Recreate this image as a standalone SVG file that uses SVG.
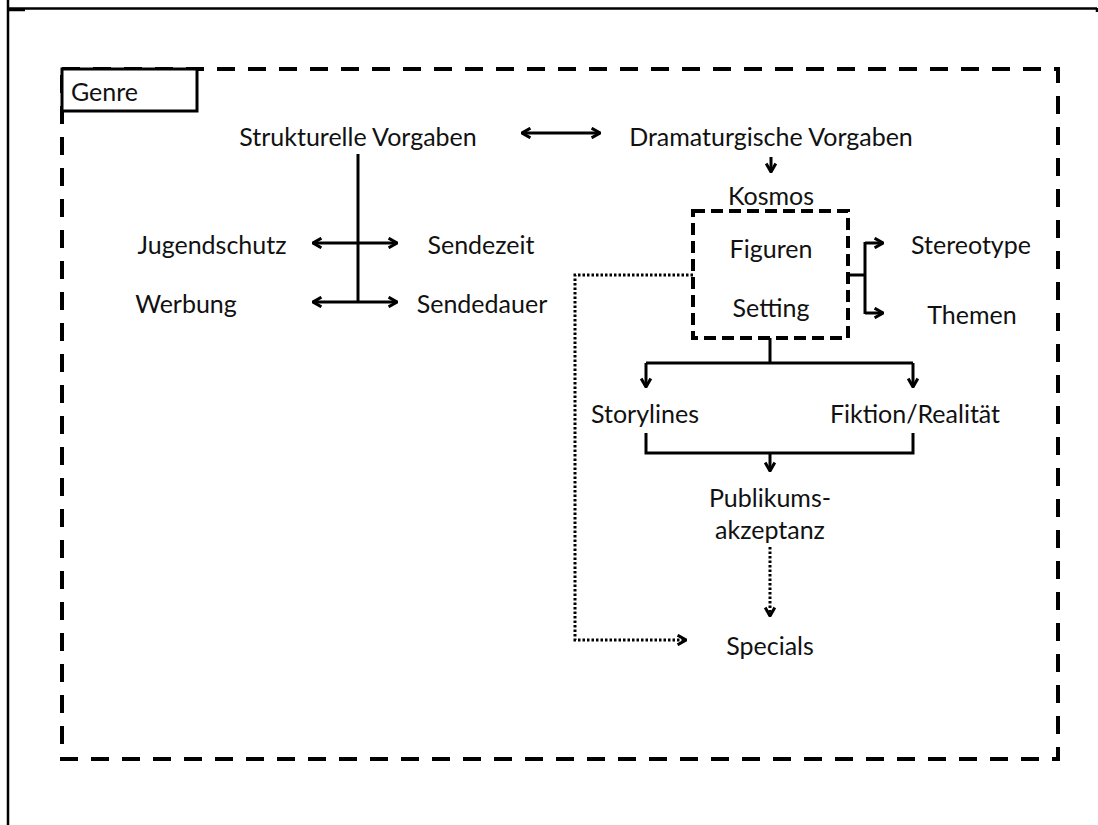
<svg xmlns="http://www.w3.org/2000/svg" width="1098" height="825" viewBox="0 0 1098 825">
<defs>
<style>
text{font-family:Lato,"Open Sans","Liberation Sans",sans-serif;font-size:25px;fill:#111;text-anchor:middle}
.c{fill:none;stroke:#000;stroke-width:3}
.dot{fill:none;stroke:#000;stroke-width:3;stroke-dasharray:2.5 2}
.frame{fill:none;stroke:#000;stroke-width:2.5}
.bigdash{fill:none;stroke:#000;stroke-width:4;stroke-dasharray:18 13}
.kdash{fill:none;stroke:#000;stroke-width:4;stroke-dasharray:12 6}
</style>
<marker id="ah" viewBox="0 0 10 10" refX="9" refY="5" markerWidth="12" markerHeight="12" markerUnits="userSpaceOnUse" orient="auto-start-reverse">
<path d="M2,1 L9,5 L2,9" fill="none" stroke="#000" stroke-width="2.5"/>
</marker>
</defs>
<rect width="1098" height="825" fill="#fff"/>
<g id="frame">
<line class="frame" x1="8" y1="0" x2="8" y2="825"/>
<line class="frame" x1="8" y1="8.5" x2="1097" y2="8.5"/>
<line class="frame" x1="8" y1="10" x2="25" y2="10"/>
<line class="frame" x1="1097" y1="8" x2="1097" y2="12"/>
</g>
<g id="genre-border">
<rect class="bigdash" x="62" y="69" width="996" height="690"/>
</g>
<g id="genre">
<rect x="62" y="69" width="135" height="42" fill="#fff" stroke="#000" stroke-width="3"/>
<text x="71" y="101" style="text-anchor:start">Genre</text>
</g>
<g id="kosmos-box">
<rect class="kdash" x="693" y="211" width="155" height="127"/>
</g>
<g id="connectors">
<line class="c" x1="522" y1="133" x2="600" y2="133" marker-start="url(#ah)" marker-end="url(#ah)"/>
<line class="c" x1="771" y1="157" x2="771" y2="172" marker-end="url(#ah)"/>
<line class="c" x1="358" y1="154" x2="358" y2="302"/>
<line class="c" x1="313" y1="243" x2="397" y2="243" marker-start="url(#ah)" marker-end="url(#ah)"/>
<line class="c" x1="313" y1="302" x2="397" y2="302" marker-start="url(#ah)" marker-end="url(#ah)"/>
<path class="c" d="M848,275 H865 M865,242 V314"/>
<path class="c" d="M865,243 H883" marker-end="url(#ah)"/>
<path class="c" d="M865,313 H883" marker-end="url(#ah)"/>
<path class="c" d="M770,338 V363 M646,363 H913"/>
<path class="c" d="M646,363 V387" marker-end="url(#ah)"/>
<path class="c" d="M913,363 V387" marker-end="url(#ah)"/>
<path class="c" d="M646,433 V453 H913 V433"/>
<path class="c" d="M770,453 V471" marker-end="url(#ah)"/>
<path class="dot" d="M770,547 V616" marker-end="url(#ah)"/>
<path class="dot" d="M693,275 H575 V640 H686" marker-end="url(#ah)"/>
</g>
<g id="strukturelle"><text x="358" y="146">Strukturelle Vorgaben</text></g>
<g id="dramaturgische"><text x="771" y="146">Dramaturgische Vorgaben</text></g>
<g id="kosmos"><text x="771" y="205">Kosmos</text></g>
<g id="figuren"><text x="771" y="258">Figuren</text></g>
<g id="setting"><text x="771" y="317">Setting</text></g>
<g id="stereotype"><text x="971" y="254">Stereotype</text></g>
<g id="themen"><text x="972" y="324">Themen</text></g>
<g id="jugendschutz"><text x="212" y="254">Jugendschutz</text></g>
<g id="sendezeit"><text x="481" y="254">Sendezeit</text></g>
<g id="werbung"><text x="186" y="313">Werbung</text></g>
<g id="sendedauer"><text x="482" y="313">Sendedauer</text></g>
<g id="storylines"><text x="645" y="423">Storylines</text></g>
<g id="fiktion"><text x="915" y="423">Fiktion/Realität</text></g>
<g id="publikum"><text x="770" y="507">Publikums-</text><text x="770" y="539">akzeptanz</text></g>
<g id="specials"><text x="770" y="655">Specials</text></g>
</svg>
